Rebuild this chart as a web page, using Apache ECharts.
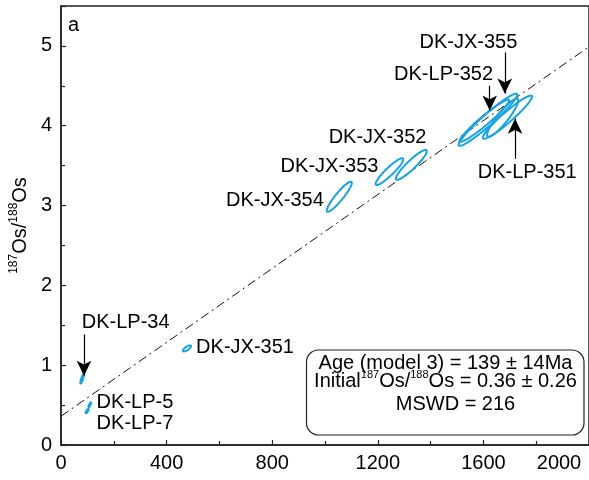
<!DOCTYPE html>
<html><head><meta charset="utf-8">
<script src="https://cdn.jsdelivr.net/npm/echarts@6/dist/echarts.min.js"></script>
<style>html,body{margin:0;padding:0;background:#fff}#c{width:589px;height:480px}</style>
</head><body><div id="c"></div>
<script>
// ---- data ----
const sampleNames = ['DK-JX-355','DK-LP-352','DK-LP-351','DK-LP-351b','DK-JX-352','DK-JX-353','DK-JX-354','DK-JX-351','DK-LP-34','DK-LP-5','DK-LP-7'];
const ellX   = [1617, 1604, 1691, 1673, 1327, 1244, 1054, 477, 80, 109, 99];
const ellY   = [4.075, 4.063, 4.107, 4.101, 3.51, 3.425, 3.11, 1.21, 0.83, 0.503, 0.425];
const ellSx  = [111, 94, 93, 59, 58.6, 52.5, 47.5, 15.5, 7, 5, 6];
const ellSy  = [0.327, 0.264, 0.27, 0.239, 0.187, 0.168, 0.189, 0.038, 0.06, 0.032, 0.028];
const ellRho = [0.96, 0.96, 0.95, 0.9, 0.92, 0.92, 0.92, 0.75, 0.85, 0.8, 0.8];

const isoX = [0, 2000];
const isoY = [0.36, 4.99];

const labelNames = ['DK-JX-355','DK-LP-352','DK-JX-352','DK-JX-353','DK-JX-354','DK-LP-351','DK-LP-34','DK-JX-351','DK-LP-5','DK-LP-7'];
const labelX = [1543, 1449, 1199, 1017, 810, 1766, 245, 697, 280, 280];
const labelY = [5.044, 4.648, 3.853, 3.484, 3.069, 3.409, 1.538, 1.216, 0.528, 0.273];

const arrowFromX = [87, 1681, 1624, 1720];
const arrowFromY = [1.384, 4.918, 4.50, 3.585];
const arrowToX   = [87, 1681, 1624, 1720];
const arrowToY   = [0.868, 4.403, 4.192, 4.088];

const xTicks = [0, 400, 800, 1200, 1600, 2000];
const yTicks = [0, 1, 2, 3, 4, 5];

const FONT = "'Liberation Sans', Arial, sans-serif";
const BLUE = '#17a2e2';
const INK = '#000';

// ---- chart ----
const chart = echarts.init(document.getElementById('c'), null, {renderer: 'canvas'});

function renderEllipse(params, api) {
  const cx = api.value(0), cy = api.value(1), sx = api.value(2), sy = api.value(3), r = api.value(4);
  const k = Math.sqrt(1 - r * r);
  const pts = [];
  for (let i = 0; i < 90; i++) {
    const t = i / 90 * Math.PI * 2;
    pts.push(api.coord([cx + sx * Math.cos(t), cy + sy * (r * Math.cos(t) + k * Math.sin(t))]));
  }
  return {type: 'polygon', shape: {points: pts}, style: {fill: 'none', stroke: BLUE, lineWidth: 2}};
}

const ellData = ellX.map((x, i) => [x, ellY[i], ellSx[i], ellSy[i], ellRho[i]]);
const labelData = labelNames.map((n, i) => ({name: n, value: [labelX[i], labelY[i]]}));
const arrowData = arrowFromX.map((x, i) => [{coord: [x, arrowFromY[i]]}, {coord: [arrowToX[i], arrowToY[i]]}]);

const option = {
  animation: false,
  backgroundColor: '#fff',
  grid: {left: 54.3, top: 6, right: -5.3, bottom: 35, show: true, borderColor: '#222', borderWidth: 1.5, backgroundColor: 'transparent'},
  xAxis: {
    type: 'value', min: xTicks[0], max: xTicks[xTicks.length - 1], interval: 400,
    axisLine: {show: true, lineStyle: {color: '#222', width: 1.5}},
    axisTick: {show: true, inside: true, length: 5, lineStyle: {color: '#222', width: 1.2}},
    minorTick: {show: true, splitNumber: 2, length: 4, lineStyle: {color: '#222', width: 1.2}},
    splitLine: {show: false},
    axisLabel: {
      color: INK, fontSize: 20, fontFamily: FONT, margin: 8,
      formatter: v => v === 2000 ? '{m|2000}' : String(v),
      rich: {m: {fontSize: 20, fontFamily: FONT, color: INK, padding: [0, 60, 0, 0]}}
    }
  },
  yAxis: {
    type: 'value', min: yTicks[0], max: 5.5, interval: 1,
    axisLine: {show: true, lineStyle: {color: '#222', width: 1.5}},
    axisTick: {show: true, inside: true, length: 5, lineStyle: {color: '#222', width: 1.2}},
    minorTick: {show: true, splitNumber: 2, length: 4, lineStyle: {color: '#222', width: 1.2}},
    splitLine: {show: false},
    axisLabel: {color: INK, fontSize: 20, fontFamily: FONT, margin: 9, showMaxLabel: false,
      formatter: v => Number.isInteger(v) ? String(v) : ''},
    name: '{s|187}{n|Os/}{s|188}{n|Os}',
    nameLocation: 'middle', nameRotate: 90, nameGap: 22,
    nameTextStyle: {
      color: INK, fontFamily: FONT,
      rich: {
        n: {fontSize: 20, fontFamily: FONT, color: INK, lineHeight: 24},
        s: {fontSize: 12, fontFamily: FONT, color: INK, lineHeight: 17, verticalAlign: 'top'}
      }
    }
  },
  series: [
    {
      type: 'line', data: isoX.map((x, i) => [x, isoY[i]]), symbol: 'none', silent: true,
      lineStyle: {color: '#111', width: 1, type: [9, 4, 2, 4]}, z: 2
    },
    {
      type: 'custom', renderItem: renderEllipse, data: ellData, encode: {x: 0, y: 1},
      clip: true, silent: true, z: 3
    },
    {
      type: 'scatter', data: labelData, symbolSize: 1, itemStyle: {color: 'transparent', opacity: 1}, silent: true,
      label: {show: true, position: 'inside', formatter: p => p.name, color: INK, opacity: 1, fontSize: 20, fontFamily: FONT},
      markLine: {
        silent: true, symbol: ['none', 'arrow'], symbolSize: [11, 15], precision: 4,
        label: {show: false},
        lineStyle: {color: '#000', width: 1.2, type: 'solid', opacity: 1},
        emphasis: {disabled: true},
        data: arrowData
      },
      z: 4
    }
  ],
  graphic: [
    {type: 'text', left: 68, top: 15, style: {text: 'a', font: '20px ' + FONT, fill: INK}},
    {type: 'rect', shape: {x: 306.5, y: 350, width: 277.5, height: 85, r: 12}, style: {fill: '#fff', stroke: '#222', lineWidth: 1.2}, z: 10},
    {type: 'text', z: 11, style: {x: 445.5, y: 363.5, text: 'Age (model 3) = 139 ± 14Ma', font: '20px ' + FONT, fill: INK, align: 'center', verticalAlign: 'middle'}},
    {type: 'text', z: 11, style: {x: 445.5, y: 381, text: '{n|Initial}{s|187}{n|Os/}{s|188}{n|Os = 0.36 ± 0.26}', align: 'center', verticalAlign: 'middle',
      rich: {n: {font: '20px ' + FONT, fill: INK, lineHeight: 24}, s: {font: '11px ' + FONT, fill: INK, lineHeight: 17, verticalAlign: 'top'}}}},
    {type: 'text', z: 11, style: {x: 455.5, y: 404.5, text: 'MSWD = 216', font: '20px ' + FONT, fill: INK, align: 'center', verticalAlign: 'middle'}}
  ]
};
chart.setOption(option);
</script>
</body></html>
